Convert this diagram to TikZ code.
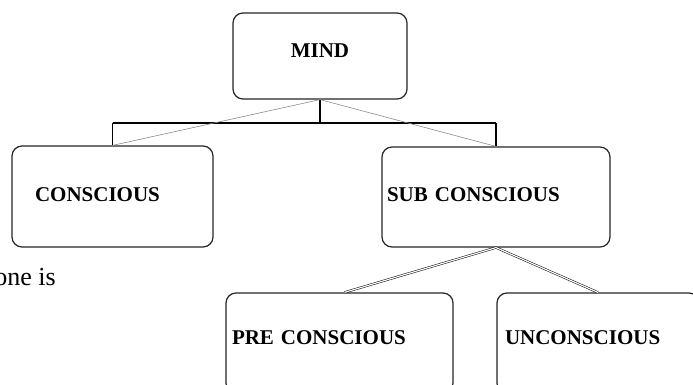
\documentclass[tikz,border=0pt]{standalone}
\usepackage{fontspec}
\setmainfont{Liberation Serif}
\begin{document}
\begin{tikzpicture}[x=1pt,y=-1pt,
  box/.style={draw=black!85, line width=1.2pt, rounded corners=10pt,
    font=\fontsize{21}{25}\selectfont\bfseries, align=left, inner ysep=0pt},
  thickline/.style={draw=black, line width=2pt},
  thinline/.style={draw=black, line width=0.8pt},
  greyline/.style={draw=black!45, line width=0.6pt},
  dblline/.style={draw=black, double=white, line width=0.5pt, double distance=1.2pt}]
\useasboundingbox (0,0) rectangle (693,385);
\clip (0,0) rectangle (693,385);
\fill[white] (0,0) rectangle (693,385);

\node[box, align=center, inner xsep=7pt, text width=160pt, minimum height=86pt, text depth=10pt] (mind) at (320,56) {MIND};
\node[box, inner xsep=23pt, text width=155pt, minimum height=101pt, text depth=3pt] (conscious) at (112.5,196.5) {CONSCIOUS};
\node[box, inner xsep=5pt, text width=218pt, minimum height=100pt, text depth=4pt] (sub) at (496,197) {SUB CONSCIOUS};
\node[box, inner xsep=6pt, text width=215pt, minimum height=100pt, text depth=10pt] (pre) at (339.5,343) {PRE CONSCIOUS};
\node[box, inner xsep=8pt, text width=186pt, minimum height=100pt, text depth=10pt] (uncon) at (598,343) {UNCONSCIOUS};

\node[font=\fontsize{26}{31}\selectfont, anchor=base east, inner sep=0pt] (frag) at (56,285) {one is};

% tree connectors from MIND
\draw[thickline] (mind.south) -- ++(0,23) coordinate (j);
\coordinate (hl) at (conscious.north |- j);
\coordinate (hr) at (sub.north |- j);
\draw[thickline] (hl) -- (hr);
\draw[thinline] (conscious.north) -- (hl);
\draw[thickline] (sub.north) -- (hr);
\draw[greyline] (mind.south) -- (conscious.north);
\draw[greyline] (mind.south) -- (sub.north);

% double connectors from SUB CONSCIOUS
\draw[dblline] (sub.south) -- ([xshift=5pt]pre.north);
\draw[dblline] (sub.south) -- (uncon.north);
\end{tikzpicture}
\end{document}
